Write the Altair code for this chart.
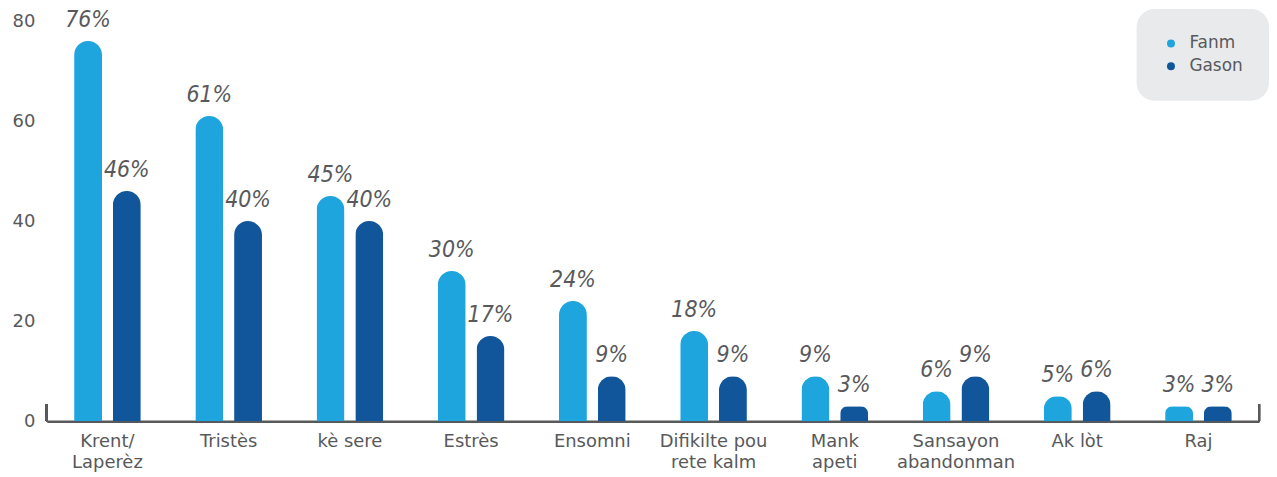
import altair as alt
import pandas as pd

categories = ["Krent/|Laperèz", "Tristès", "kè sere", "Estrès", "Ensomni",
              "Difikilte pou|rete kalm", "Mank|apeti", "Sansayon|abandonman", "Ak lòt", "Raj"]
fanm = [76, 61, 45, 30, 24, 18, 9, 6, 5, 3]
gason = [46, 40, 40, 17, 9, 9, 3, 9, 6, 3]
groups = ["Fanm", "Gason"]
colors = ["#1fa5de", "#11569b"]

rows = []
for c, f, g in zip(categories, fanm, gason):
    rows.append({"cat": c, "group": "Fanm", "value": f, "label": f"{f}%"})
    rows.append({"cat": c, "group": "Gason", "value": g, "label": f"{g}%"})
df = pd.DataFrame(rows)

TXT = "#58595b"
LABEL_FONT = "DejaVu Sans"
W, H = 1218, 402

x = alt.X("cat:N", sort=categories, title=None,
          scale=alt.Scale(paddingInner=0.45, paddingOuter=0.225),
          axis=alt.Axis(labelAngle=0, ticks=False, domain=True, domainColor="#58595b",
                        domainWidth=2.5, labelColor=TXT, labelFont=LABEL_FONT,
                        labelFontSize=18, labelLineHeight=22,
                        labelPadding=11, labelExpr="split(datum.value, '|')"))
xo = alt.XOffset("group:N", sort=groups, scale=alt.Scale(paddingInner=0.28, paddingOuter=0))
y = alt.Y("value:Q", title=None,
          scale=alt.Scale(domain=[0, 80], nice=False),
          axis=alt.Axis(values=[0, 20, 40, 60, 80], grid=False, ticks=False, domain=False,
                        labelColor=TXT, labelFont=LABEL_FONT, labelFontSize=18,
                        labelPadding=12))

color = alt.Color("group:N", sort=groups,
                  scale=alt.Scale(domain=groups, range=colors),
                  legend=alt.Legend(title=None, orient="none", legendX=1095, legendY=-12,
                                    fillColor="#e9eaec", cornerRadius=18, padding=26,
                                    symbolType="circle", symbolSize=64, symbolStrokeWidth=0,
                                    labelFont=LABEL_FONT, labelFontSize=17, labelColor=TXT,
                                    rowPadding=5, labelOffset=10))

base = alt.Chart(df)

bars = base.mark_bar(cornerRadiusTopLeft=14, cornerRadiusTopRight=14).encode(
    x=x, xOffset=xo, y=y, color=color)

texts = base.mark_text(font="'DejaVu Sans Condensed', 'Liberation Sans Narrow', Roboto, sans-serif",
                       fontStyle="italic", fontSize=23,
                       color=TXT, baseline="bottom", dy=-9).encode(
    x=alt.X("cat:N", sort=categories), xOffset=xo, y="value:Q", text="label:N")

left_tick = alt.Chart(df).mark_rule(color="#58595b", strokeWidth=2).encode(
    x=alt.value(0), y=alt.value(H - 17), y2=alt.value(H))
right_tick = alt.Chart(df).mark_rule(color="#58595b", strokeWidth=2).encode(
    x=alt.value(W), y=alt.value(H - 17), y2=alt.value(H))

chart = alt.layer(bars, texts, left_tick, right_tick).properties(
    width=W, height=H,
    padding={"top": 0, "left": 4, "right": 0, "bottom": 0},
).configure_view(stroke=None)

chart.save("out.html", embed_options={"renderer": "svg", "actions": False})
